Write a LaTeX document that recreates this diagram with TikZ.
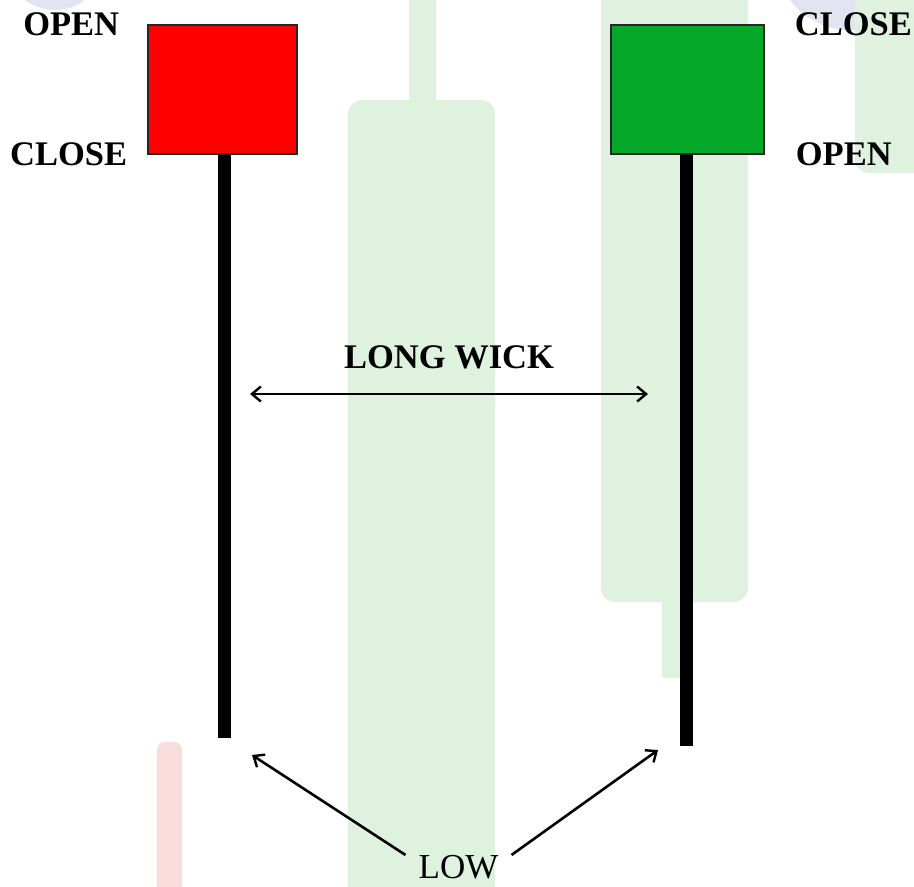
\documentclass[tikz,border=0pt]{standalone}
\usepackage{fontspec}
\setmainfont{Liberation Serif}
\usetikzlibrary{positioning,arrows.meta}
\definecolor{bearred}{HTML}{FF0000}
\definecolor{bullgreen}{HTML}{06A82A}
\definecolor{fadegreen}{HTML}{DFF2DF}
\definecolor{fadepink}{HTML}{FADCDC}
\definecolor{fadeblue}{HTML}{E3E4F1}
\tikzset{
  body/.style={draw=black!85, line width=1.4pt, minimum height=129pt, inner sep=0pt},
  wick/.style={line width=13pt},
  tag/.style={font=\fontsize{34.5}{40}\selectfont\bfseries, inner sep=0pt},
  barb/.tip={Straight Barb[length=9pt,width=15pt,line width=2.4pt]},
  pointer/.style={-barb, line width=2.6pt},
}
\begin{document}
\begin{tikzpicture}[x=1pt,y=-1pt]
        \clip (0,0) rectangle (914,887);
        %% faded candles behind
        \fill[fadeblue] (55,-40) circle (50pt);
        \fill[fadeblue] (850,-45) circle (75pt);
        \fill[fadegreen] (409,-10) rectangle (436,110);
        \fill[fadegreen, rounded corners=14pt] (348,100) rectangle (495,920);
        \fill[fadegreen] (662,590) rectangle (686,678);
        \fill[fadegreen, rounded corners=14pt] (601,-30) rectangle (748,602);
        \fill[fadegreen, rounded corners=14pt] (855,-30) rectangle (930,173);
        \fill[fadepink, rounded corners=8pt] (157,742) rectangle (182,920);
        %% candles
        \node[body, fill=bearred, minimum width=149pt] (bear) at (222.5,89.5) {};
        \node[body, fill=bullgreen, minimum width=153pt] (bull) at (687.5,89.5) {};
        \coordinate (bearlow) at (224.5,738);
        \coordinate (bulllow) at (686,746);
        \draw[wick] (bear.south -| bearlow) -- (bearlow);
        \draw[wick] (bull.south -| bulllow) -- (bulllow);
        %% open / close
        \node[tag, left=28pt of bear.north west] (bearopen) {OPEN};
        \node[tag, left=20pt of bear.south west] (bearclose) {CLOSE};
        \node[tag, right=30pt of bull.north east] (bullclose) {CLOSE};
        \node[tag, right=31pt of bull.south east] (bullopen) {OPEN};
        %% long wick
        \coordinate (spanL) at (250,394);
        \coordinate (spanR) at (648,394);
        \draw[barb-barb, line width=2.6pt]
            (spanL) -- node[tag, above=24pt] (span) {LONG WICK} (spanR);
        %% low
        \node[tag, font=\fontsize{35}{40}\selectfont] (low) at (458.5,867) {LOW};
        \coordinate (lowL) at (252,755);
        \coordinate (lowR) at (658,750);
        \draw[pointer] ([xshift=-13pt]low.north west) -- (lowL);
        \draw[pointer] ([xshift=13pt]low.north east) -- (lowR);
    \end{tikzpicture}
\end{document}
